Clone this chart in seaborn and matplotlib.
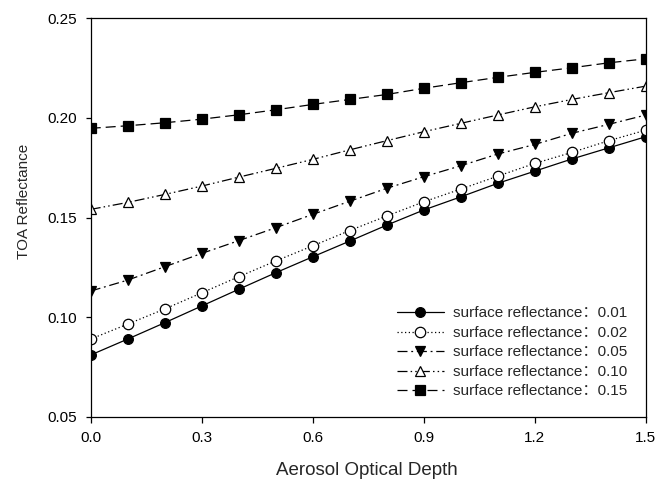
import numpy as np
import pandas as pd
import matplotlib
matplotlib.use("Agg")
import matplotlib.pyplot as plt
import seaborn as sns

# =========================
# Data
# =========================
aod = [0.0, 0.1, 0.2, 0.3, 0.4, 0.5, 0.6, 0.7, 0.8, 0.9, 1.0, 1.1, 1.2, 1.3, 1.4, 1.5]

toa_001 = [0.0810, 0.0890, 0.0972, 0.1056, 0.1140, 0.1223, 0.1303, 0.1382,
           0.1462, 0.1538, 0.1604, 0.1672, 0.1733, 0.1794, 0.1850, 0.1906]
toa_002 = [0.0890, 0.0965, 0.1041, 0.1122, 0.1203, 0.1282, 0.1358, 0.1435,
           0.1508, 0.1579, 0.1643, 0.1708, 0.1772, 0.1827, 0.1886, 0.1939]
toa_005 = [0.1131, 0.1186, 0.1253, 0.1320, 0.1384, 0.1449, 0.1516, 0.1582,
           0.1647, 0.1705, 0.1760, 0.1819, 0.1867, 0.1923, 0.1968, 0.2015]
toa_010 = [0.1541, 0.1576, 0.1616, 0.1658, 0.1703, 0.1747, 0.1792, 0.1840,
           0.1886, 0.1931, 0.1973, 0.2015, 0.2056, 0.2093, 0.2127, 0.2160]
toa_015 = [0.1948, 0.1961, 0.1976, 0.1994, 0.2016, 0.2041, 0.2068, 0.2093,
           0.2118, 0.2149, 0.2177, 0.2204, 0.2229, 0.2252, 0.2277, 0.2297]

surface = ["0.01", "0.02", "0.05", "0.10", "0.15"]
x_ticks = [0.0, 0.3, 0.6, 0.9, 1.2, 1.5]
y_ticks = [0.05, 0.10, 0.15, 0.20, 0.25]

series = [toa_001, toa_002, toa_005, toa_010, toa_015]

# styles: marker, face colour, line style, marker size
styles = [
    ("o", "black", "-", 7),
    ("o", "white", (0, (1, 2)), 7.5),
    ("v", "black", (0, (8, 3, 1.5, 3)), 7),
    ("^", "white", (0, (8, 2.5, 1.2, 2.5, 1.2, 2.5)), 7),
    ("s", "black", (0, (8, 4)), 6.5),
]

# =========================
# Plot
# =========================
sns.set_style("ticks")
plt.rcParams['font.family'] = ['Liberation Sans', 'Noto Sans CJK SC', 'DejaVu Sans']

fig = plt.figure(figsize=(6.55, 4.84), dpi=100)
ax = fig.add_axes([0.1385, 0.139, 0.8475, 0.823])

for vals, sr, (mk, fc, ls, ms) in zip(series, surface, styles):
    df = pd.DataFrame({"aod": aod, "toa": vals})
    sns.lineplot(
        data=df, x="aod", y="toa", ax=ax,
        color="black", linewidth=0.9, linestyle=ls,
        marker=mk, markersize=ms, markerfacecolor=fc,
        markeredgecolor="black", markeredgewidth=0.9,
        label=f"surface reflectance：{sr}",
    )

ax.set_xlim(0, 1.5)
ax.set_ylim(0.05, 0.25)
ax.set_xticks(x_ticks)
ax.set_xticklabels([f"{t:.1f}" for t in x_ticks])
ax.set_yticks(y_ticks)
ax.set_yticklabels([f"{t:.2f}" for t in y_ticks])
ax.tick_params(axis="x", direction="out", length=4.3, width=0.9, pad=6,
               labelsize=11, colors="black")
ax.tick_params(axis="y", direction="out", length=3.6, width=0.9, pad=6.5,
               labelsize=11, colors="black")

for sp in ax.spines.values():
    sp.set_linewidth(0.9)
    sp.set_color("black")
    sp.set_visible(True)

ax.set_xlabel("Aerosol Optical Depth", fontsize=13.5)
ax.set_ylabel("TOA Reflectance", fontsize=11)
ax.xaxis.set_label_coords(0.497, -0.113)
ax.yaxis.set_label_coords(-0.107, 0.54)

ax.legend(loc="lower right", frameon=False, fontsize=11, handlelength=3.1,
          labelspacing=0.36, borderaxespad=0.8, handletextpad=0.6)

fig.savefig("out.png", dpi=100)
